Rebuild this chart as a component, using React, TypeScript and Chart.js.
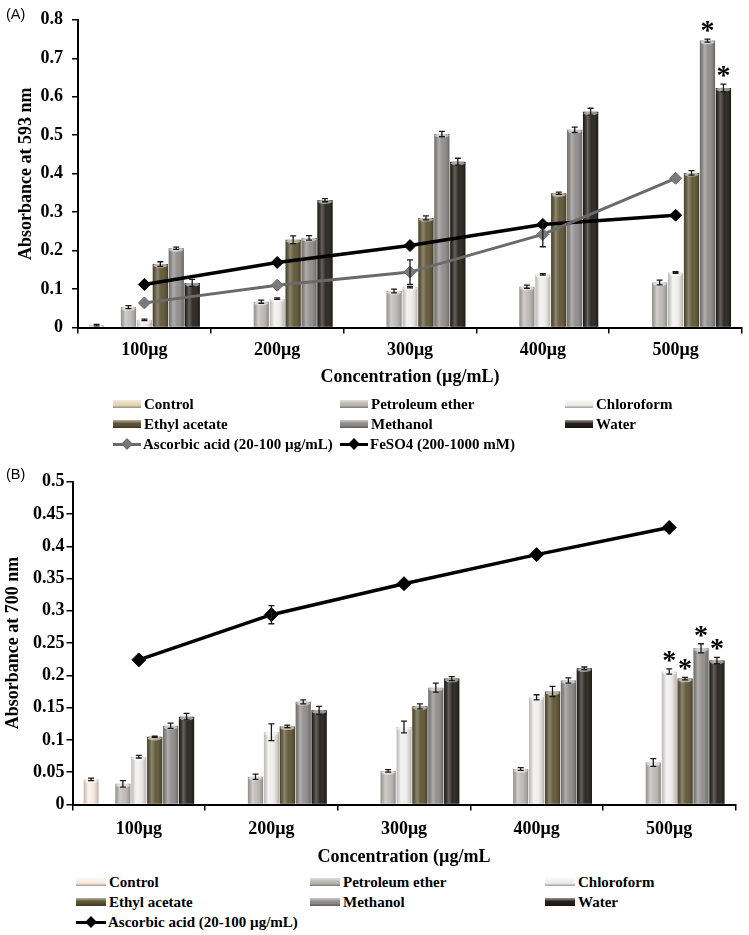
import React, { useEffect, useRef } from 'react';
import { Chart, registerables } from 'chart.js';

Chart.register(...registerables);

// ---------- shared ----------
const categories = ['100μg', '200μg', '300μg', '400μg', '500μg'];
const seriesNames = ['Control', 'Petroleum ether', 'Chloroform', 'Ethyl acetate', 'Methanol', 'Water'];

// ---------- Panel A : absorbance at 593 nm ----------
const controlA = [0.006, null, null, null, null];
const petEtherA = [0.053, 0.067, 0.095, 0.106, 0.117];
const chloroformA = [0.02, 0.075, 0.105, 0.138, 0.143];
const ethylAcetateA = [0.165, 0.228, 0.285, 0.349, 0.402];
const methanolA = [0.206, 0.233, 0.503, 0.514, 0.746];
const waterA = [0.116, 0.331, 0.431, 0.561, 0.623];
const ascorbicA = [0.064, 0.11, 0.144, 0.242, 0.388];
const feso4A = [0.112, 0.169, 0.213, 0.268, 0.292];

const controlErrA = [0.002, 0, 0, 0, 0];
const petEtherErrA = [0.004, 0.004, 0.005, 0.004, 0.006];
const chloroformErrA = [0.002, 0.002, 0.002, 0.002, 0.002];
const ethylAcetateErrA = [0.006, 0.01, 0.005, 0.003, 0.006];
const methanolErrA = [0.003, 0.006, 0.007, 0.007, 0.004];
const waterErrA = [0.009, 0.004, 0.009, 0.009, 0.01];
const ascorbicErrA = [0, 0, 0.032, 0.032, 0];

const methanolStarA = [0, 0, 0, 0, 1];
const waterStarA = [0, 0, 0, 0, 1];

const yTicksA = [0, 0.1, 0.2, 0.3, 0.4, 0.5, 0.6, 0.7, 0.8];

// ---------- Panel B : absorbance at 700 nm ----------
const controlB = [0.039, null, null, null, null];
const petEtherB = [0.032, 0.043, 0.052, 0.055, 0.065];
const chloroformB = [0.074, 0.112, 0.12, 0.166, 0.206];
const ethylAcetateB = [0.105, 0.121, 0.152, 0.175, 0.195];
const methanolB = [0.122, 0.159, 0.181, 0.192, 0.242];
const waterB = [0.136, 0.146, 0.195, 0.211, 0.223];
const ascorbicB = [0.224, 0.294, 0.342, 0.387, 0.429];

const controlErrB = [0.002, 0, 0, 0, 0];
const petEtherErrB = [0.005, 0.004, 0.002, 0.002, 0.006];
const chloroformErrB = [0.002, 0.013, 0.009, 0.004, 0.004];
const ethylAcetateErrB = [0.001, 0.002, 0.004, 0.008, 0.002];
const methanolErrB = [0.004, 0.003, 0.007, 0.004, 0.007];
const waterErrB = [0.005, 0.006, 0.003, 0.002, 0.005];
const ascorbicErrB = [0, 0.014, 0, 0, 0];

const chloroformStarB = [0, 0, 0, 0, 1];
const ethylAcetateStarB = [0, 0, 0, 0, 1];
const methanolStarB = [0, 0, 0, 0, 1];
const waterStarB = [0, 0, 0, 0, 1];

const yTicksB = [0, 0.05, 0.1, 0.15, 0.2, 0.25, 0.3, 0.35, 0.4, 0.45, 0.5];

// ---------- styles ----------
const barColorsA = ['#e4d7b7', '#bcb8b4', '#efeeeb', '#5c5232', '#8e8a8a', '#221d17'];
const barColorsB = ['#fbece2', '#bcb8b4', '#efeeeb', '#5c5232', '#8e8a8a', '#221d17'];
const SERIF = '"Liberation Serif", "Times New Roman", serif';

const decorPlugin = {
  id: 'decor',
  afterDatasetDraw(chart: any, args: any) {
    const ds = chart.data.datasets[args.index];
    const meta = args.meta;
    const ctx = chart.ctx;
    const yScale = chart.scales.y;
    if (meta.type === 'bar') {
      meta.data.forEach((el: any, i: number) => {
        const v = ds.data[i];
        if (v == null) return;
        const { x, y, base, width } = el.getProps(['x', 'y', 'base', 'width'], true);
        const l = x - width / 2;
        const h = base - y;
        ctx.save();
        ctx.beginPath();
        ctx.rect(l, y, width, h);
        ctx.clip();
        const g = ctx.createLinearGradient(l, 0, l + width, 0);
        g.addColorStop(0, 'rgba(0,0,0,0.22)');
        g.addColorStop(0.3, 'rgba(255,255,255,0.30)');
        g.addColorStop(0.55, 'rgba(255,255,255,0.06)');
        g.addColorStop(1, 'rgba(0,0,0,0.28)');
        ctx.fillStyle = g;
        ctx.fillRect(l, y, width, h);
        ctx.beginPath();
        ctx.ellipse(x, y + 1.5, width / 2 - 0.5, 2.2, 0, 0, Math.PI * 2);
        ctx.fillStyle = 'rgba(255,255,255,0.5)';
        ctx.fill();
        ctx.restore();
      });
    }
    const errs = ds.errors;
    if (errs) {
      ctx.save();
      ctx.strokeStyle = '#1a1a1a';
      ctx.lineWidth = 1.3;
      meta.data.forEach((el: any, i: number) => {
        const v = ds.data[i];
        const e = errs[i];
        if (v == null || !e) return;
        const x = el.x;
        const yt = yScale.getPixelForValue(v + e);
        const yb = yScale.getPixelForValue(v - e);
        const cw = 3;
        ctx.beginPath();
        ctx.moveTo(x, yt);
        ctx.lineTo(x, yb);
        ctx.moveTo(x - cw, yt);
        ctx.lineTo(x + cw, yt);
        ctx.moveTo(x - cw, yb);
        ctx.lineTo(x + cw, yb);
        ctx.stroke();
      });
      ctx.restore();
    }
    const stars = ds.stars;
    if (stars) {
      ctx.save();
      ctx.fillStyle = '#000';
      ctx.font = 'bold 28px ' + SERIF;
      ctx.textAlign = 'center';
      ctx.textBaseline = 'alphabetic';
      meta.data.forEach((el: any, i: number) => {
        if (!stars[i]) return;
        const v = ds.data[i];
        const e = errs ? errs[i] || 0 : 0;
        const top = yScale.getPixelForValue(v + e);
        ctx.fillText('*', el.x, top - 13 + 0.47 * 28);
      });
      ctx.restore();
    }
  },
};

function barDs(label: string, data: any[], color: string, errors: number[] | null, stars?: number[]) {
  return {
    type: 'bar',
    label,
    data,
    backgroundColor: color,
    borderWidth: 0,
    order: 2,
    categoryPercentage: 0.84,
    barPercentage: 0.96,
    errors,
    stars,
  };
}

function lineDs(label: string, data: number[], color: string, pointFill: string, width: number, radius: number, errors: number[]) {
  return {
    type: 'line',
    label,
    data,
    borderColor: color,
    borderWidth: width,
    pointStyle: 'rectRot',
    pointRadius: radius,
    pointBackgroundColor: pointFill,
    pointBorderColor: color,
    pointBorderWidth: 1,
    fill: false,
    tension: 0,
    order: 1,
    errors,
  };
}

function makeOptions(p: {
  yTicks: number[]; yTitle: string; xTitle: string; yWidth: number; xHeight: number;
  padTop: number; padRight: number; yTitlePad: number; xTitlePadBottom: number; yTickPad: number; xTickPad: number;
}) {
  const tickFont = { family: SERIF, size: 18, weight: 'bold' as const, lineHeight: 1.2 };
  const titleFont = { family: SERIF, size: 18, weight: 'bold' as const, lineHeight: 1.2 };
  return {
    responsive: false,
    animation: false,
    layout: { padding: { top: p.padTop, right: p.padRight, left: 0, bottom: 0 } },
    plugins: { legend: { display: false }, tooltip: { enabled: false } },
    scales: {
      x: {
        offset: true,
        grid: { offset: true, drawOnChartArea: false, drawTicks: true, tickLength: 6, color: '#000', lineWidth: 1.5 },
        border: { color: '#000', width: 2 },
        ticks: { font: tickFont, color: '#000', padding: p.xTickPad, maxRotation: 0, autoSkip: false },
        title: { display: true, text: p.xTitle, font: titleFont, color: '#000', padding: { top: 0, bottom: p.xTitlePadBottom } },
        afterFit: (s: any) => { s.height = p.xHeight; },
      },
      y: {
        min: p.yTicks[0],
        max: p.yTicks[p.yTicks.length - 1],
        grid: { drawOnChartArea: false, drawTicks: true, tickLength: 6, color: '#000', lineWidth: 1.5 },
        border: { color: '#000', width: 2 },
        ticks: { font: tickFont, color: '#000', padding: p.yTickPad, callback: (v: any) => String(v) },
        afterBuildTicks: (s: any) => { s.ticks = p.yTicks.map((v) => ({ value: v })); },
        title: { display: true, text: p.yTitle, font: titleFont, color: '#000', padding: { top: p.yTitlePad, bottom: 0 } },
        afterFit: (s: any) => { s.width = p.yWidth; },
      },
    },
  };
}

function LegendBlock(props: {
  top: number; colLeft: number[]; markerW: number; colors: string[];
  lines: { label: string; color: string; fill: string }[];
}) {
  const rowGap = 20;
  const items: any[] = [];
  seriesNames.forEach((name, i) => {
    const col = i % 3;
    const row = Math.floor(i / 3);
    const c = props.colors[i];
    items.push(
      <div key={name} style={{ position: 'absolute', left: props.colLeft[col], top: props.top + row * rowGap - 10, height: 20, display: 'flex', alignItems: 'center', whiteSpace: 'nowrap' }}>
        <div style={{ width: props.markerW, height: 8, marginRight: 3, background: `linear-gradient(to bottom, rgba(255,255,255,0.55), ${c} 45%, ${c} 65%, rgba(0,0,0,0.35))`, backgroundColor: c }} />
        <span style={{ font: `bold 15px ${SERIF}`, color: '#000' }}>{name}</span>
      </div>
    );
  });
  props.lines.forEach((ln, j) => {
    items.push(
      <div key={ln.label} style={{ position: 'absolute', left: props.colLeft[j], top: props.top + 2 * rowGap - 10, height: 20, display: 'flex', alignItems: 'center', whiteSpace: 'nowrap' }}>
        <div style={{ position: 'relative', width: props.markerW, height: 12, marginRight: 2 }}>
          <div style={{ position: 'absolute', left: 0, right: 0, top: 4.5, height: 3, background: ln.color }} />
          <div style={{ position: 'absolute', left: props.markerW / 2 - 4, top: 2, width: 8, height: 8, background: ln.fill, border: `1px solid ${ln.color}`, boxSizing: 'border-box', transform: 'rotate(45deg)' }} />
        </div>
        <span style={{ font: `bold 15px ${SERIF}`, color: '#000' }}>{ln.label}</span>
      </div>
    );
  });
  return <>{items}</>;
}

export default function App() {
  const refA = useRef<HTMLCanvasElement>(null);
  const refB = useRef<HTMLCanvasElement>(null);

  useEffect(() => {
    const spacer = () => ({ type: 'bar', label: '', data: categories.map(() => null), order: 2, categoryPercentage: 0.84, barPercentage: 0.96 });
    const chartA = new Chart(refA.current as HTMLCanvasElement, {
      type: 'bar',
      data: {
        labels: categories,
        datasets: [
          barDs(seriesNames[0], controlA, barColorsA[0], controlErrA),
          spacer(),
          barDs(seriesNames[1], petEtherA, barColorsA[1], petEtherErrA),
          barDs(seriesNames[2], chloroformA, barColorsA[2], chloroformErrA),
          barDs(seriesNames[3], ethylAcetateA, barColorsA[3], ethylAcetateErrA),
          barDs(seriesNames[4], methanolA, barColorsA[4], methanolErrA, methanolStarA),
          barDs(seriesNames[5], waterA, barColorsA[5], waterErrA, waterStarA),
          lineDs('Ascorbic acid (20-100 µg/mL)', ascorbicA, '#6a6a6a', '#7a7a7a', 3, 6, ascorbicErrA),
          lineDs('FeSO4 (200-1000 mM)', feso4A, '#000000', '#000000', 3.5, 6, [0, 0, 0, 0, 0]),
        ] as any,
      },
      options: makeOptions({
        yTicks: yTicksA, yTitle: 'Absorbance at 593 nm', xTitle: 'Concentration (µg/mL)',
        yWidth: 78, xHeight: 67.5, padTop: 10, padRight: 5.5, yTitlePad: 16, xTitlePadBottom: 7, yTickPad: 9, xTickPad: 6,
      }) as any,
      plugins: [decorPlugin as any],
    });

    const chartB = new Chart(refB.current as HTMLCanvasElement, {
      type: 'bar',
      data: {
        labels: categories,
        datasets: [
          barDs(seriesNames[0], controlB, barColorsB[0], controlErrB),
          spacer(),
          barDs(seriesNames[1], petEtherB, barColorsB[1], petEtherErrB),
          barDs(seriesNames[2], chloroformB, barColorsB[2], chloroformErrB, chloroformStarB),
          barDs(seriesNames[3], ethylAcetateB, barColorsB[3], ethylAcetateErrB, ethylAcetateStarB),
          barDs(seriesNames[4], methanolB, barColorsB[4], methanolErrB, methanolStarB),
          barDs(seriesNames[5], waterB, barColorsB[5], waterErrB, waterStarB),
          lineDs('Ascorbic acid (20-100 µg/mL)', ascorbicB, '#000000', '#000000', 3.5, 7, ascorbicErrB),
        ] as any,
      },
      options: makeOptions({
        yTicks: yTicksB, yTitle: 'Absorbance at 700 nm', xTitle: 'Concentration (µg/mL',
        yWidth: 72.5, xHeight: 65.5, padTop: 21.7, padRight: 13.5, yTitlePad: 2.2, xTitlePadBottom: 2.2, yTickPad: 2, xTickPad: 7.7,
      }) as any,
      plugins: [decorPlugin as any],
    });

    return () => {
      chartA.destroy();
      chartB.destroy();
    };
  }, []);

  return (
    <div style={{ position: 'absolute', left: 0, top: 0, width: 749, height: 935, background: '#fff', overflow: 'hidden' }}>
      <canvas ref={refA} width={749} height={395} style={{ position: 'absolute', left: 0, top: 0, width: 749, height: 395 }} />
      <canvas ref={refB} width={749} height={410} style={{ position: 'absolute', left: 0, top: 460, width: 749, height: 410 }} />
      <div style={{ position: 'absolute', left: 6, top: 6, font: '14.5px "Liberation Sans", Arial, sans-serif', color: '#000' }}>(A)</div>
      <div style={{ position: 'absolute', left: 6, top: 466, font: '14.5px "Liberation Sans", Arial, sans-serif', color: '#000' }}>(B)</div>
      <LegendBlock
        top={404}
        colLeft={[113, 340, 565]}
        markerW={28}
        colors={barColorsA}
        lines={[
          { label: 'Ascorbic acid (20-100 µg/mL)', color: '#6a6a6a', fill: '#7a7a7a' },
          { label: 'FeSO4 (200-1000 mM)', color: '#000', fill: '#000' },
        ]}
      />
      <LegendBlock
        top={882}
        colLeft={[76, 310, 545]}
        markerW={30}
        colors={barColorsB}
        lines={[{ label: 'Ascorbic acid (20-100 µg/mL)', color: '#000', fill: '#000' }]}
      />
    </div>
  );
}
